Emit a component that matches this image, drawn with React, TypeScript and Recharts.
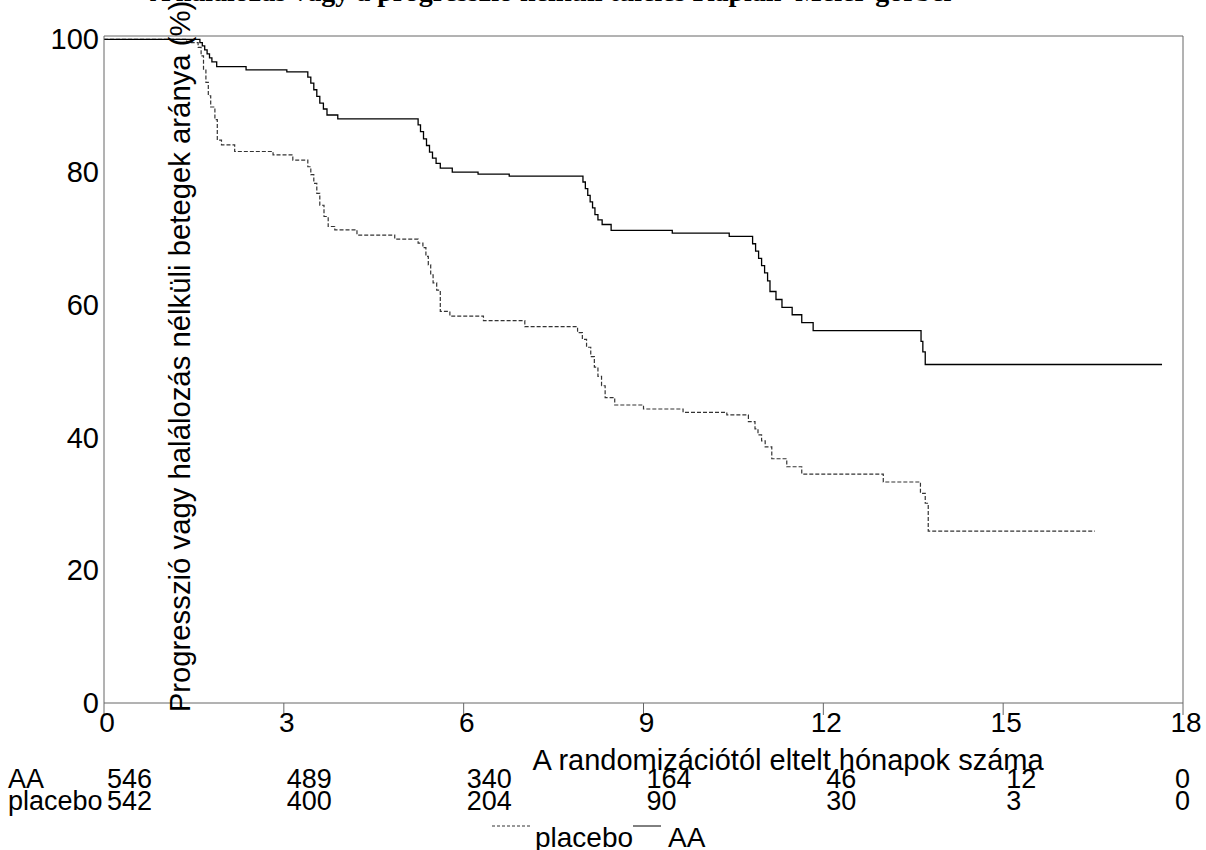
import React from 'react'
import { LineChart, Line, XAxis, YAxis, ReferenceLine, Legend, Label } from 'recharts'

// tick values and the numbers-at-risk table
const monthTicks = [0, 3, 6, 9, 12, 15, 18]
const pctTicks = [0, 20, 40, 60, 80, 100]
const atRiskAA = [546, 489, 340, 164, 46, 12, 0]
const atRiskPlacebo = [542, 400, 204, 90, 30, 3, 0]

// Kaplan-Meier steps (month, % still event-free)
const aaMonths = [
  0, 1.6, 1.64, 1.68, 1.72, 1.76, 1.8, 1.88, 2.37, 3.05,
  3.4, 3.45, 3.5, 3.55, 3.6, 3.66, 3.72, 3.9,
  5.24, 5.28, 5.33, 5.38, 5.43, 5.48, 5.54, 5.61, 5.81, 6.24, 6.76,
  7.99, 8.03, 8.07, 8.11, 8.15, 8.19, 8.24, 8.31, 8.46, 9.48, 10.43,
  10.82, 10.87, 10.92, 10.97, 11.02, 11.07, 11.11, 11.21, 11.31, 11.48, 11.64, 11.83,
  13.63, 13.66, 13.7, 17.65,
]
const aaPct = [
  100, 99.5, 99.0, 98.4, 97.8, 97.2, 96.6, 95.9, 95.4, 95.1,
  94.3, 93.4, 92.4, 91.4, 90.4, 89.5, 88.6, 88.0,
  87.1, 86.1, 85.0, 84.0, 83.0, 82.1, 81.3, 80.6, 80.0, 79.7, 79.4,
  78.5, 77.5, 76.5, 75.5, 74.6, 73.6, 72.8, 72.1, 71.2, 70.8, 70.3,
  69.2, 68.1, 67.0, 65.9, 64.8, 63.6, 62.0, 60.8, 59.6, 58.5, 57.3, 56.1,
  54.5, 52.9, 51.0, 51.0,
]
const placeboMonths = [
  0, 1.38, 1.57, 1.62, 1.66, 1.7, 1.74, 1.78, 1.85, 1.89, 1.96, 2.18, 2.82, 3.15,
  3.4, 3.45, 3.5, 3.55, 3.6, 3.67, 3.74, 3.85, 4.22, 4.85,
  5.24, 5.32, 5.37, 5.41, 5.45, 5.49, 5.55, 5.61, 5.77, 6.33, 7.02,
  7.9, 7.98, 8.05, 8.12, 8.18, 8.24, 8.3, 8.36, 8.52, 9.0, 9.66, 10.39,
  10.75, 10.86, 10.91, 10.97, 11.03, 11.14, 11.39, 11.64, 13.0,
  13.62, 13.7, 13.75, 16.53,
]
const placeboPct = [
  100, 99.5, 98.8, 97.5, 95.5, 93.5, 91.5, 89.8, 87.9, 84.8, 84.1, 83.1, 82.6, 81.8,
  80.8, 79.6, 78.3, 76.8, 75.0, 73.3, 71.8, 71.3, 70.5, 69.9,
  69.3, 68.6, 67.3, 66.0, 64.5, 63.3, 62.2, 59.0, 58.3, 57.6, 56.7,
  55.8, 54.8, 53.6, 52.2, 50.6, 49.2, 47.8, 46.0, 44.9, 44.3, 43.8, 43.4,
  42.4, 41.3, 40.4, 39.5, 38.6, 36.8, 35.6, 34.5, 33.3,
  31.6, 30.1, 25.9, 25.9,
]

const aaData = aaMonths.map((m, i) => ({ month: m, pct: aaPct[i] }))
const placeboData = placeboMonths.map((m, i) => ({ month: m, pct: placeboPct[i] }))

const font = '"Liberation Sans", Arial, sans-serif'
const fs = 28
const tableFs = 27
const axisColor = '#666'

const MonthTick = (props: any) => {
  const { x, y, payload } = props
  const i = monthTicks.indexOf(payload.value)
  const last = i === monthTicks.length - 1
  const numX = last ? x + 7 : x + 3
  const anchor = last ? 'end' : 'start'
  return (
    <g fontFamily={font} fontSize={fs} fill="#000">
      <text x={x + 3} y={y + 17} textAnchor="middle">{payload.value}</text>
      <text x={numX} y={y + 73} textAnchor={anchor} fontSize={tableFs}>{atRiskAA[i]}</text>
      <text x={numX} y={y + 95} textAnchor={anchor} fontSize={tableFs}>{atRiskPlacebo[i]}</text>
      {i === 0 && (
        <>
          <text x={8} y={y + 73} fontSize={tableFs}>AA</text>
          <text x={8} y={y + 95} fontSize={tableFs}>placebo</text>
        </>
      )}
    </g>
  )
}

const PctTick = (props: any) => {
  const { x, y, payload } = props
  return (
    <text x={x + 3} y={y + 10} textAnchor="end" fontFamily={font} fontSize={29} fill="#000">
      {payload.value}
    </text>
  )
}

const renderLegend = () => (
  <div style={{ display: 'flex', alignItems: 'flex-start', fontFamily: font, fontSize: fs, lineHeight: '28px', color: '#000', whiteSpace: 'nowrap' }}>
    <svg width={40} height={4} style={{ marginTop: 10 }}>
      <line x1={0} x2={38} y1={2} y2={2} stroke="#333" strokeDasharray="3 2" />
    </svg>
    <span style={{ marginTop: 10, marginLeft: 3 }}>placebo</span>
    <svg width={30} height={4} style={{ marginTop: 10 }}>
      <line x1={0} x2={28} y1={2} y2={2} stroke="#000" />
    </svg>
    <span style={{ marginTop: 10, marginLeft: 5 }}>AA</span>
  </div>
)

export default function App() {
  return (
    <div style={{ position: 'absolute', left: 0, top: 0, width: 1206, height: 850, background: '#fff', overflow: 'hidden' }}>
      <svg width={1206} height={20} style={{ position: 'absolute', left: 0, top: 0 }}>
        <text x={150} y={1} fontFamily='"Liberation Serif", "Times New Roman", serif' fontWeight="bold" fontSize={28}>
          A halálozás vagy a progresszió nélküli túlélés Kaplan–Meier-görbéi
        </text>
      </svg>
      <LineChart width={1206} height={850} margin={{ top: 36, right: 23, bottom: 0, left: 0 }}>
        <XAxis
          dataKey="month"
          type="number"
          domain={[0, 18]}
          ticks={monthTicks}
          height={147}
          tickSize={12}
          tickMargin={0}
          stroke={axisColor}
          tick={<MonthTick />}
          allowDataOverflow
        >
          <Label
            content={(p: any) => {
              const vb = p.viewBox || { x: 104, y: 703, width: 1079 }
              return (
                <text x={vb.x + vb.width * 0.634} y={vb.y + 67} textAnchor="middle" fontFamily={font} fontSize={29} fill="#000">
                  A randomizációtól eltelt hónapok száma
                </text>
              )
            }}
          />
        </XAxis>
        <YAxis
          type="number"
          domain={[0, 100.5]}
          ticks={pctTicks}
          width={104}
          tickLine={false}
          stroke={axisColor}
          tick={<PctTick />}
          allowDataOverflow
        >
          <Label
            content={(p: any) => {
              const vb = p.viewBox || { x: 0, y: 36, width: 104, height: 667 }
              const cx = vb.x + vb.width + 86
              const cy = vb.y + vb.height / 2 - 13
              return (
                <text x={cx} y={cy} transform={`rotate(-90 ${cx} ${cy})`} textAnchor="middle" fontFamily={font} fontSize={29.3} fill="#000">
                  Progresszió vagy halálozás  nélküli betegek aránya (%)
                </text>
              )
            }}
          />
        </YAxis>
        <ReferenceLine y={100.5} stroke={axisColor} />
        <ReferenceLine x={18} stroke={axisColor} />
        <Line
          data={placeboData}
          dataKey="pct"
          name="placebo"
          type="stepAfter"
          stroke="#333"
          strokeWidth={1.2}
          strokeDasharray="4 2"
          dot={false}
          isAnimationActive={false}
        />
        <Line
          data={aaData}
          dataKey="pct"
          name="AA"
          type="stepAfter"
          stroke="#000"
          strokeWidth={1.3}
          dot={false}
          isAnimationActive={false}
        />
        <Legend
          layout="vertical"
          align="center"
          verticalAlign="middle"
          content={renderLegend}
          wrapperStyle={{ left: 492, top: 814, width: 'auto' }}
        />
      </LineChart>
    </div>
  )
}
